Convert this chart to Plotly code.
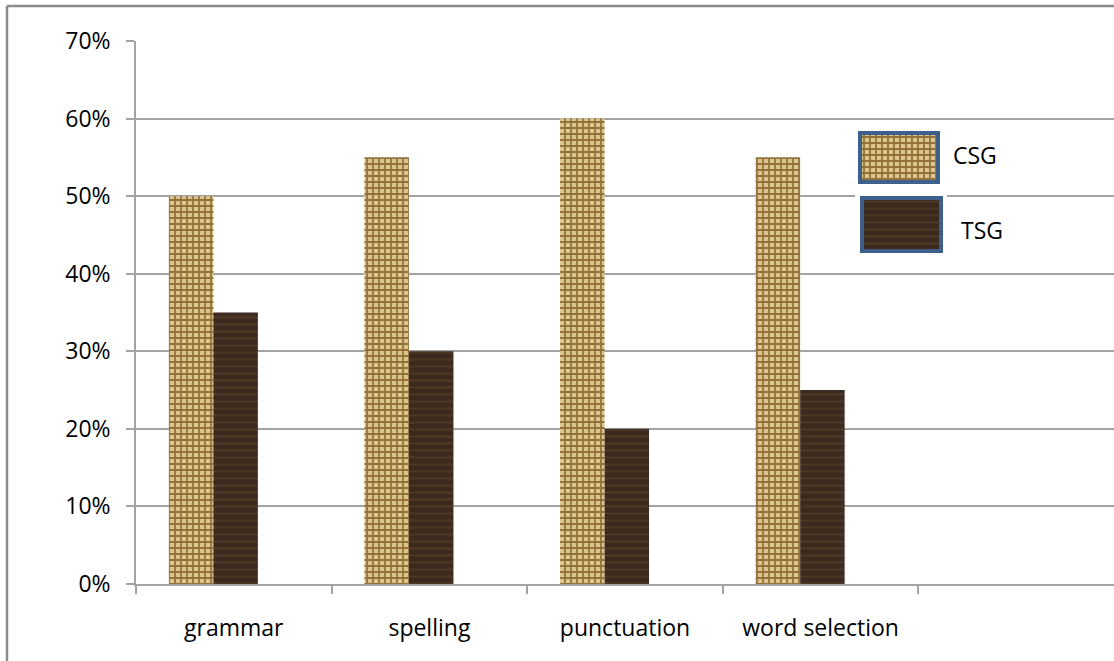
import plotly.graph_objects as go

# Share of errors by category for the two study groups
categories = ["grammar", "spelling", "punctuation", "word selection"]
csg_values = [0.50, 0.55, 0.60, 0.55]
tsg_values = [0.35, 0.30, 0.20, 0.25]
y_ticks = [0, 0.1, 0.2, 0.3, 0.4, 0.5, 0.6, 0.7]
y_tick_labels = ["0%", "10%", "20%", "30%", "40%", "50%", "60%", "70%"]
series_names = ["CSG", "TSG"]

FONT = "Open Sans"
GRID = "#a3a3a3"
BURLAP_BG = "#dcc58c"
BURLAP_FG = "#93713a"
WOOD_BG = "#3b2a1d"
WOOD_FG = "#4b3828"
LEGEND_EDGE = "#3d5f8c"

W, H = 1114, 661
ML, MR, MT, MB = 136, 0, 41, 77
PW, PH = W - ML - MR, H - MT - MB


def px_x(p):
    return (p - ML) / PW


def px_y(p):
    return (H - MB - p) / PH


burlap = dict(shape="+", size=6, solidity=0.5, fgcolor=BURLAP_FG,
              bgcolor=BURLAP_BG, fillmode="replace")
wood = dict(shape="-", size=7, solidity=0.3, fgcolor=WOOD_FG,
            bgcolor=WOOD_BG, fillmode="replace")

fig = go.Figure()

fig.add_trace(go.Bar(
    x=categories, y=csg_values, name=series_names[0],
    width=0.2275, offset=-0.332,
    marker=dict(color=BURLAP_BG, pattern=burlap, line=dict(width=0)),
    showlegend=False,
))
fig.add_trace(go.Bar(
    x=categories, y=tsg_values, name=series_names[1],
    width=0.2275, offset=-0.1045,
    marker=dict(color=WOOD_BG, pattern=wood, line=dict(width=0)),
    showlegend=False,
))

# Legend swatches drawn on a small auxiliary pixel-scaled axis pair
fig.add_trace(go.Bar(
    x=[899], y=[49], base=[133], width=[78], xaxis="x2", yaxis="y2",
    marker=dict(color=BURLAP_BG, pattern=burlap,
                line=dict(color=LEGEND_EDGE, width=4)),
    showlegend=False, hoverinfo="skip",
))
fig.add_trace(go.Bar(
    x=[901.5], y=[53], base=[198], width=[79], xaxis="x2", yaxis="y2",
    marker=dict(color=WOOD_BG, pattern=wood,
                line=dict(color=LEGEND_EDGE, width=4)),
    showlegend=False, hoverinfo="skip",
))

fig.add_annotation(x=px_x(951), y=px_y(155), xref="paper", yref="paper",
                   text=series_names[0], showarrow=False, xanchor="left",
                   yanchor="middle", font=dict(family=FONT, size=23, color="#000"))
fig.add_annotation(x=px_x(959), y=px_y(230), xref="paper", yref="paper",
                   text=series_names[1], showarrow=False, xanchor="left",
                   yanchor="middle", font=dict(family=FONT, size=23, color="#000"))

# Outer chart frame (top and left edges)
fig.add_shape(type="line", xref="paper", yref="paper",
              x0=px_x(7), x1=px_x(W + 2), y0=px_y(6), y1=px_y(6),
              line=dict(color="#8c8c8c", width=2.5))
fig.add_shape(type="line", xref="paper", yref="paper",
              x0=px_x(7), x1=px_x(7), y0=px_y(6), y1=px_y(H + 2),
              line=dict(color="#8c8c8c", width=2.5))

fig.update_layout(
    width=W, height=H,
    margin=dict(l=ML, r=MR, t=MT, b=MB),
    paper_bgcolor="white", plot_bgcolor="white",
    font=dict(family=FONT, size=23, color="#000"),
    barmode="overlay",
    xaxis=dict(
        type="category", range=[-0.5, 4.5],
        showgrid=False, zeroline=False,
        showline=True, linecolor=GRID, linewidth=1.5,
        ticks="outside", tickson="boundaries", ticklen=8,
        tickcolor=GRID, tickwidth=1.5,
        ticklabelstandoff=23,
        tickfont=dict(family=FONT, size=23, color="#000"),
    ),
    yaxis=dict(
        range=[0, 0.7], tickvals=y_ticks, ticktext=y_tick_labels,
        showgrid=True, gridcolor=GRID, gridwidth=1.5,
        zeroline=False, showline=True, linecolor=GRID, linewidth=1.5,
        ticks="outside", ticklen=8, tickcolor=GRID, tickwidth=1.5,
        ticklabelstandoff=11,
        tickfont=dict(family=FONT, size=23, color="#000"),
    ),
    xaxis2=dict(domain=[px_x(855), px_x(947)], range=[855, 947],
                anchor="y2", visible=False, fixedrange=True),
    yaxis2=dict(domain=[px_y(256), px_y(128)], range=[256, 128],
                anchor="x2", visible=False, fixedrange=True),
)

fig.write_html("out.html")
